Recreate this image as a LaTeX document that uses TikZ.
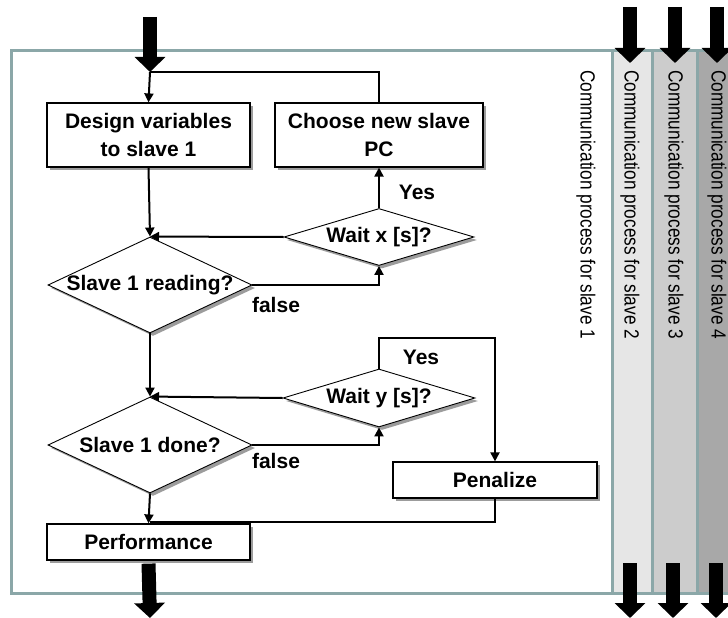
\documentclass[tikz,border=0pt]{standalone}
\usepackage{fontspec}
\setmainfont{Liberation Sans}
\usetikzlibrary{shapes.geometric,arrows.meta,shadows}
\definecolor{framec}{HTML}{8BA7A8}
\definecolor{stripb}{HTML}{E6E6E6}
\definecolor{stripc}{HTML}{CCCCCC}
\definecolor{stripd}{HTML}{A8A8A8}
\newcommand{\vtext}[1]{\scalebox{0.84}[1]{#1}}
\begin{document}
\begin{tikzpicture}[x=1pt,y=-1pt,
  shad/.style={drop shadow={shadow xshift=3pt,shadow yshift=-3pt,fill=black!55,opacity=.7}},
  box/.style={draw, line width=1.2pt, fill=white, shad, align=center, inner sep=0,
    font=\fontsize{21}{28}\selectfont\bfseries},
  dia/.style={diamond, draw, line width=0.9pt, fill=white, shad, inner sep=0,
    font=\fontsize{21}{24}\selectfont\bfseries},
  flow/.style={line width=2pt, -{Triangle[length=9pt,width=9pt]}},
  link/.style={line width=2pt},
  big/.style={line width=14pt, -{Triangle[length=15pt,width=30pt]}},
  lbl/.style={font=\fontsize{21}{24}\selectfont\bfseries, inner sep=0},
  vt/.style={rotate=-90, anchor=west, inner sep=0, font=\fontsize{20.5}{22}\selectfont},
  lane/.style={draw=framec, line width=3pt}]
\useasboundingbox (0,0) rectangle (728,618);
% lanes
\draw[lane, fill=white] (11,51) rectangle (612,593);
\draw[lane, fill=stripb] (612,51) rectangle (652,593);
\draw[lane, fill=stripc] (652,51) rectangle (697,593);
\draw[lane, fill=stripd] (697,51) rectangle (740,593);
\node[vt] (t1) at (586,70) {\vtext{Communication process for slave 1}};
\node[vt] (t2) at (630,70) {\vtext{Communication process for slave 2}};
\node[vt] (t3) at (674,70) {\vtext{Communication process for slave 3}};
\node[vt] (t4) at (717,70) {\vtext{Communication process for slave 4}};
% nodes
\node[box, minimum width=203pt, minimum height=64pt] (design) at (148.5,135) {Design variables\\to slave 1};
\node[box, minimum width=208pt, minimum height=64pt] (choose) at (379,135) {Choose new slave\\PC};
\node[dia, minimum width=204pt, minimum height=96pt] (read) at (150,285) {\makebox[0pt]{Slave 1 reading?}};
\node[dia, minimum width=190pt, minimum height=57pt] (waitx) at (379,237) {\makebox[0pt]{Wait x [s]?}};
\node[dia, minimum width=204pt, minimum height=96pt] (done) at (150,445) {\makebox[0pt]{Slave 1 done?}};
\node[dia, minimum width=192pt, minimum height=58pt] (waity) at (379,398) {\makebox[0pt]{Wait y [s]?}};
\node[box, minimum width=204pt, minimum height=36pt] (pen) at (495,480) {Penalize};
\node[box, minimum width=203pt, minimum height=36pt] (perf) at (148.5,542) {Performance};
% labels
\node[lbl] (yes1) at (417,192) {Yes};
\node[lbl] (false1) at (276,305) {false};
\node[lbl] (yes2) at (421,357) {Yes};
\node[lbl] (false2) at (276,461) {false};
% coordinates
\coordinate (in) at (150,17);
\coordinate (j0) at (150,72);
\coordinate (yy) at (379,338);
\coordinate (jp) at (150,522);
\coordinate (out) at (150,618);
\coordinate (in2) at (630,7);  \coordinate (e2) at (630,63);
\coordinate (in3) at (675,7);  \coordinate (e3) at (675,63);
\coordinate (in4) at (717,7);  \coordinate (e4) at (717,63);
\coordinate (o2a) at (630,563); \coordinate (o2b) at (630,618);
\coordinate (o3a) at (673,563); \coordinate (o3b) at (673,618);
\coordinate (o4a) at (716,563); \coordinate (o4b) at (716,618);
% connectors
\draw[flow] (j0) -- (design.north);
\draw[link] (choose.north) |- (j0);
\draw[flow] (design.south) -- (read.north);
\draw[flow] (waitx.north) -- (choose.south);
\draw[flow] (waitx.west) -- (read.north);
\draw[flow] (read.east) -| (waitx.south);
\draw[flow] (read.south) -- (done.north);
\draw[flow] (waity.west) -- (done.north);
\draw[flow] (done.east) -| (waity.south);
\draw[flow] (waity.north) -- (yy) -| (pen.north);
\draw[flow] (done.south) -- (perf.north);
\draw[link] (pen.south) |- (jp);
% block arrows
\draw[big] (in) -- (j0);
\draw[big] ([yshift=-3pt]perf.south) -- (out);
\draw[big] (in2) -- (e2);
\draw[big] (in3) -- (e3);
\draw[big] (in4) -- (e4);
\draw[big] (o2a) -- (o2b);
\draw[big] (o3a) -- (o3b);
\draw[big] (o4a) -- (o4b);
\end{tikzpicture}
\end{document}
